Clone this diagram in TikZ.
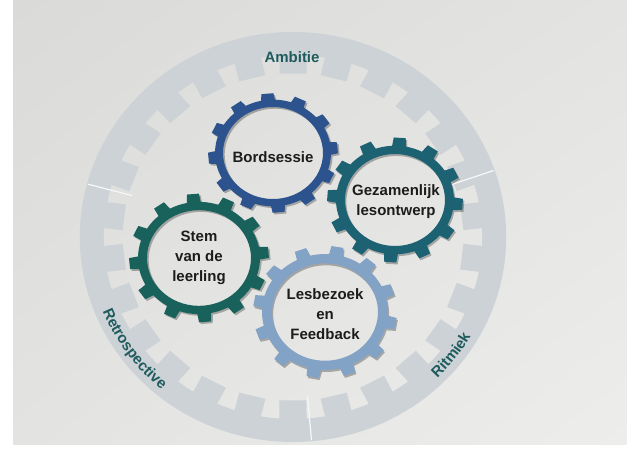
\documentclass[tikz,border=0pt]{standalone}
\usepackage{fontspec}
\setmainfont{Liberation Sans}
\usetikzlibrary{decorations.text,shadings}

\definecolor{pagegrey}{HTML}{E3E3E1}
\definecolor{pagedark}{HTML}{DADAD8}
\definecolor{pagelight}{HTML}{EDEDEB}
\definecolor{ringgrey}{HTML}{CDD2D6}
\definecolor{bordblue}{HTML}{2C538D}
\definecolor{gezamteal}{HTML}{1D6272}
\definecolor{stemgreen}{HTML}{19625C}
\definecolor{lesbblue}{HTML}{82A2C6}
\definecolor{labelteal}{HTML}{1F5B5E}
\definecolor{inkblack}{HTML}{1C1C1C}

% toothed outline: last index, pitch, base radius, tip radius
\newcommand{\cogoutline}[4]{(-\cogbase:#3) foreach \k in {0,...,#1}{ -- ({\k*#2-\cogtip}:#4) -- ({\k*#2+\cogtip}:#4) -- ({\k*#2+\cogbase}:#3) arc[start angle={\k*#2+\cogbase}, end angle={(\k+1)*#2-\cogbase}, radius=#3]} -- cycle}
\newcommand{\ringfont}{\fontsize{15}{18}\selectfont\bfseries\color{labelteal}}

\tikzset{
  pics/cog/.style n args={4}{code={
    \pgfmathsetmacro\cogbase{deg(7/#2)}
    \pgfmathsetmacro\cogtip{deg(6/#3)}
    \fill[black, opacity=.28, even odd rule, shift={(1.5,-2)}] (0,0) circle[radius=#1] \cogoutline{11}{30}{#2}{#3};
    \fill[#4, even odd rule] (0,0) circle[radius=#1] \cogoutline{11}{30}{#2}{#3};
  }}
}

\begin{document}
\begin{tikzpicture}[x=1pt, y=1pt,
    cogtext/.style={font=\fontsize{15}{20}\selectfont\bfseries, text=inkblack, align=center},
    ringtext/.style={font=\ringfont}]
  \useasboundingbox (0,0) rectangle (627,458);
  \fill[white] (0,0) rectangle (627,458);
  \shade[upper left=pagedark, upper right=pagegrey, lower left=pagegrey, lower right=pagelight] (13,13) rectangle (627,458);

  \coordinate (ringc) at (293,221);
  \begin{scope}[shift={(ringc)}, xscale=1.04]
    \pgfmathsetmacro\cogbase{deg(13/182)}
    \pgfmathsetmacro\cogtip{deg(13/164)}
    \fill[ringgrey, even odd rule, rotate=90] (0,0) circle[radius=205] \cogoutline{25}{13.846}{182}{164};
    \foreach \a in {19,165,275}
      \draw[white!85!ringgrey, line width=1.2pt] (\a:160) -- (\a:204);
  \end{scope}

  \node[ringtext] (ambitie) at (292,401) {Ambitie};
  \path[decorate, decoration={text along path, text align=center, text={|\ringfont|Retrospective}}]
    (ringc) ++(198:205 and 199) arc[start angle=198, end angle=234, x radius=205, y radius=199];
  \path[decorate, decoration={text along path, text align=center, text={|\ringfont|Ritmiek}}]
    (ringc) ++(305:205 and 199) arc[start angle=305, end angle=340, x radius=205, y radius=199];

  \pic[yscale=.92, rotate=-10] at (325,146) {cog={53}{63}{72}{lesbblue}};
  \pic[yscale=.92, rotate=-4] at (395,258) {cog={50}{59}{68}{gezamteal}};
  \pic[yscale=.92, rotate=5] at (273,305) {cog={50}{58}{65}{bordblue}};
  \pic[yscale=.92, rotate=5] at (199,200) {cog={52}{61}{70}{stemgreen}};

  \node[cogtext] (bord) at (273,301) {Bordsessie};
  \node[cogtext] (gezam) at (396,256) {Gezamenlijk\\lesontwerp};
  \node[cogtext] (stem) at (199,200) {Stem\\van de\\leerling};
  \node[cogtext] (lesb) at (325,144) {Lesbezoek\\en\\Feedback};
\end{tikzpicture}
\end{document}
